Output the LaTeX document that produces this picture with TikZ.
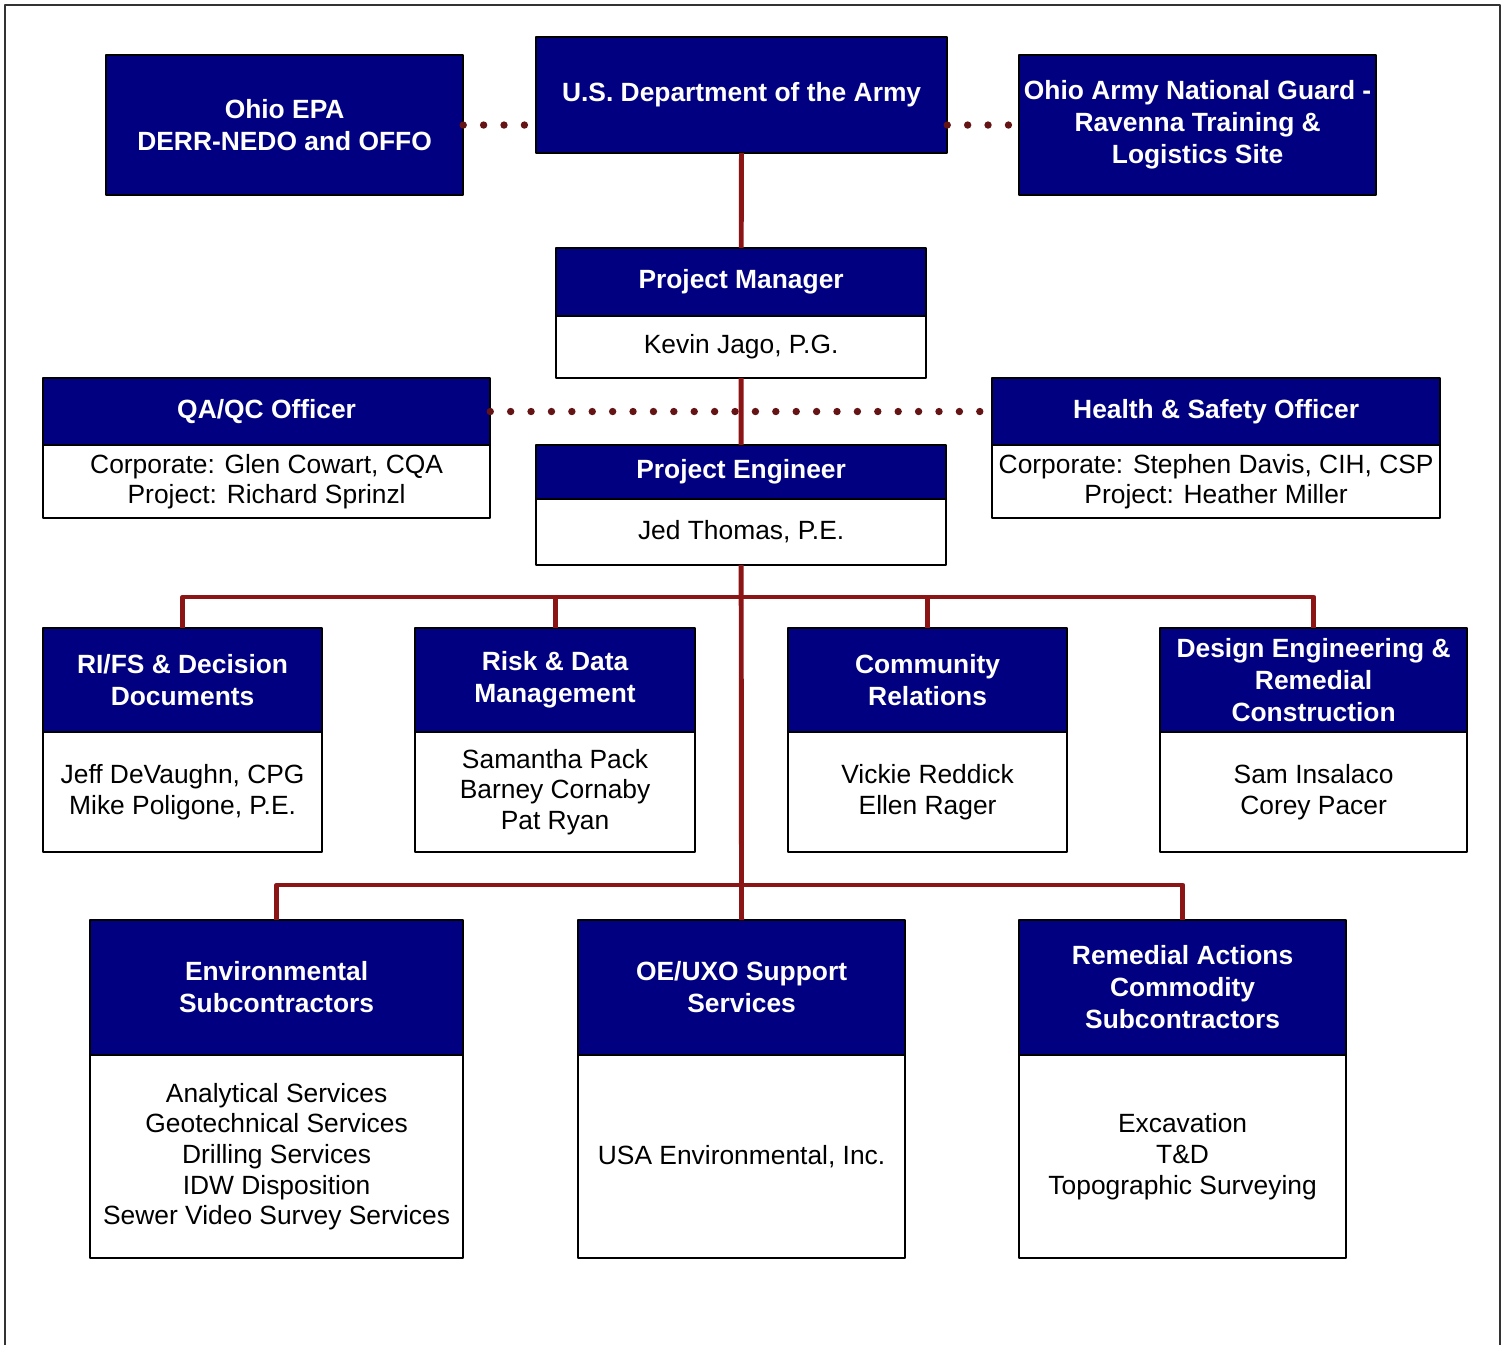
\documentclass[tikz,border=0pt]{standalone}
\usepackage{fontspec}
\setmainfont{Liberation Sans}
\definecolor{navy}{RGB}{0,0,128}
\definecolor{linkred}{RGB}{139,20,20}
\definecolor{dotred}{RGB}{100,20,20}
\begin{document}
\begin{tikzpicture}[x=0.01cm,y=-0.01cm,line join=round,
	head/.style={draw=black,line width=0.6pt,fill=navy,text=white,font=\bfseries\fontsize{7.5}{9.1}\selectfont,align=center,inner sep=0pt,outer sep=0pt,anchor=north west},
	body/.style={draw=black,line width=0.6pt,fill=white,text=black,font=\fontsize{7.5}{8.7}\selectfont,align=center,inner sep=0pt,outer sep=0pt,anchor=north},
	link/.style={draw=linkred,line width=1.4pt},
	dots/.style={draw=dotred,line width=2.1pt,line cap=round,dash pattern=on 0pt off 5.8pt}]
		\useasboundingbox (0,0) rectangle (1507,1345);
		\draw[line width=0.7pt,black!80] (5,1345)--(5,5)--(1500,5)--(1500,1345);
		% top row
		\node[head,minimum width=3.57cm,minimum height=1.40cm] (epa) at (106,55) {Ohio EPA\\DERR-NEDO and OFFO};
		\node[head,minimum width=4.11cm,minimum height=1.16cm] (army) at (536,37) {U.S. Department of the Army};
		\node[head,minimum width=3.57cm,minimum height=1.40cm] (ng) at (1019,55) {Ohio Army National Guard -\\Ravenna Training \&\\Logistics Site};
		% managers
		\node[head,minimum width=3.70cm,minimum height=0.68cm] (pmh) at (556,248) {Project Manager};
		\node[body,minimum width=3.70cm,minimum height=0.62cm] (pmb) at (pmh.south) {Kevin Jago, P.G.};
		\node[head,minimum width=4.47cm,minimum height=0.67cm] (qah) at (43,378) {QA/QC Officer};
		\node[body,minimum width=4.47cm,minimum height=0.73cm] (qab) at (qah.south) {Corporate: Glen Cowart, CQA\\Project: Richard Sprinzl};
		\node[head,minimum width=4.48cm,minimum height=0.67cm] (hsh) at (992,378) {Health \& Safety Officer};
		\node[body,minimum width=4.48cm,minimum height=0.73cm] (hsb) at (hsh.south) {Corporate: Stephen Davis, CIH, CSP\\Project: Heather Miller};
		\node[head,minimum width=4.10cm,minimum height=0.54cm] (peh) at (536,445) {Project Engineer};
		\node[body,minimum width=4.10cm,minimum height=0.66cm] (peb) at (peh.south) {Jed Thomas, P.E.};
		% task leads
		\node[head,minimum width=2.79cm,minimum height=1.04cm] (rih) at (43,628) {RI/FS \& Decision\\Documents};
		\node[body,minimum width=2.79cm,minimum height=1.20cm] (rib) at (rih.south) {Jeff DeVaughn, CPG\\Mike Poligone, P.E.};
		\node[head,minimum width=2.80cm,minimum height=1.04cm] (rdh) at (415,628) {Risk \& Data\\Management};
		\node[body,minimum width=2.80cm,minimum height=1.20cm] (rdb) at (rdh.south) {Samantha Pack\\Barney Cornaby\\Pat Ryan};
		\node[head,minimum width=2.79cm,minimum height=1.04cm] (crh) at (788,628) {Community\\Relations};
		\node[body,minimum width=2.79cm,minimum height=1.20cm] (crb) at (crh.south) {Vickie Reddick\\Ellen Rager};
		\node[head,minimum width=3.07cm,minimum height=1.04cm] (deh) at (1160,628) {Design Engineering \&\\Remedial\\Construction};
		\node[body,minimum width=3.07cm,minimum height=1.20cm] (deb) at (deh.south) {Sam Insalaco\\Corey Pacer};
		% subcontractors
		\node[head,minimum width=3.73cm,minimum height=1.35cm] (envh) at (90,920) {Environmental\\Subcontractors};
		\node[body,minimum width=3.73cm,minimum height=2.03cm] (envb) at (envh.south) {Analytical Services\\Geotechnical Services\\Drilling Services\\IDW Disposition\\Sewer Video Survey Services};
		\node[head,minimum width=3.27cm,minimum height=1.35cm] (oeh) at (578,920) {OE/UXO Support\\Services};
		\node[body,minimum width=3.27cm,minimum height=2.03cm] (oeb) at (oeh.south) {USA Environmental, Inc.};
		\node[head,minimum width=3.27cm,minimum height=1.35cm] (remh) at (1019,920) {Remedial Actions\\Commodity\\Subcontractors};
		\node[body,minimum width=3.27cm,minimum height=2.03cm] (remb) at (remh.south) {Excavation\\T\&D\\Topographic Surveying};
		% connectors
		\coordinate (bus1) at (741,597);
		\coordinate (bus2) at (741,885);
		\draw[dots] (epa.east)--(epa.east -| army.west);
		\draw[dots] (army.east |- ng.west)--(ng.west);
		\draw[dots] (qah.east)--(hsh.west);
		\draw[link] (army)--(pmh);
		\draw[link] (pmb)--(peh);
		\draw[link] (peb)--(oeh);
		\draw[link] (rih.north)|-(bus1)-|(deh.north);
		\draw[link] (rdh.north)--(rdh.north |- bus1);
		\draw[link] (crh.north)--(crh.north |- bus1);
		\draw[link] (envh.north)|-(bus2)-|(remh.north);
\end{tikzpicture}
\end{document}
